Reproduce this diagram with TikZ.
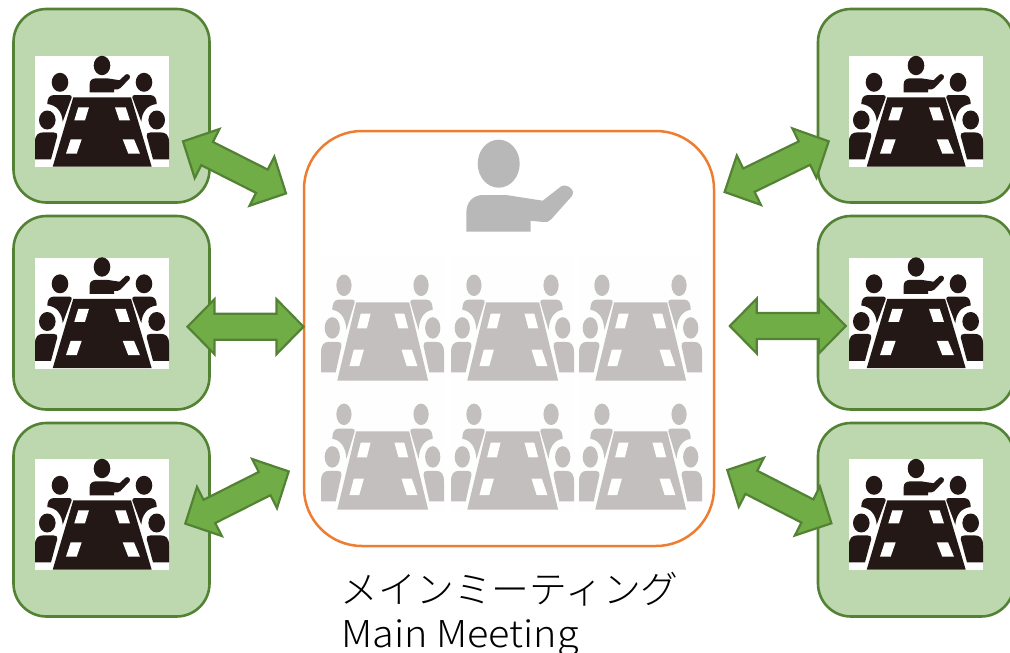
\documentclass[tikz,border=0pt]{standalone}
\usepackage{fontspec}
\usetikzlibrary{calc}
\newfontfamily\cjklabel{Noto Sans CJK JP Light}
\definecolor{boxfill}{HTML}{BDD7AE}
\definecolor{boxline}{HTML}{548235}
\definecolor{arrowfill}{HTML}{70AD47}
\definecolor{orangeline}{HTML}{ED7D31}
\definecolor{inkdark}{HTML}{231815}
\definecolor{inkgrey}{HTML}{C2BFBE}
\definecolor{presenter}{HTML}{B8B8B8}
\tikzset{
  roombox/.style={draw=boxline,fill=boxfill,line width=2.6pt,rounded corners=33pt,minimum width=196pt,minimum height=193.5pt,inner sep=0pt,outer sep=0pt,anchor=north west},
  mainbox/.style={draw=orangeline,fill=white,line width=2.5pt,rounded corners=58pt,minimum width=410pt,minimum height=415pt,inner sep=0pt,outer sep=0pt,anchor=north west},
  blockarrow/.style={draw=boxline,fill=arrowfill,line width=2.2pt,line join=miter},
  caption/.style={inner sep=0pt,anchor=base west,font=\cjklabel},
}
% one side of the table: two seated people
\newcommand{\sidepeople}[1]{%
  \fill[#1] (25,26.3) ellipse [x radius=8.3,y radius=9.5];
  \fill[#1] (12.3,64) ellipse [x radius=8.3,y radius=9.5];
  \fill[#1] (19,39) -- (34,39) .. controls (36,39) and (37,40) .. (36.7,41.5) -- (27.7,65.7)
     .. controls (27,56) and (22,49) .. (12.3,48) .. controls (12.3,43) and (14,39) .. (19,39) -- cycle;
  \fill[#1] (0,103.3) -- (0,86) .. controls (0,79) and (3,76.3) .. (9,76.3) -- (18,76.3)
     .. controls (21,76.3) and (23,77.5) .. (22.3,80) -- (16,103.3) -- cycle;
}
\newcommand{\roomicon}[1]{%
  \sidepeople{#1}
  \begin{scope}[shift={(134,0)},xscale=-1]\sidepeople{#1}\end{scope}
  \fill[#1] (38.3,41.3) -- (96,41.3) -- (116.7,110.7) -- (17.7,110.7) -- cycle;
  \fill[white] (43.3,51.3) -- (54,51.3) -- (50,64.3) -- (39.3,64.3) -- cycle;
  \fill[white] (80,51.3) -- (90.7,51.3) -- (95,64.3) -- (84.3,64.3) -- cycle;
  \fill[white] (35.7,83.3) -- (46.7,83.3) -- (41.7,97.7) -- (31,97.7) -- cycle;
  \fill[white] (87.7,83.3) -- (99,83.3) -- (105,97.7) -- (93.3,97.7) -- cycle;
}
\newcommand{\darkicon}[2]{%
  \begin{scope}[shift={(#1,#2)}]
    \fill[white] (0,0) rectangle (134,111);
    \roomicon{inkdark}
    \fill[inkdark] (67,9.5) ellipse [x radius=8.3,y radius=9.7];
    \fill[inkdark] (54.7,36.3) -- (54.7,28) .. controls (54.7,24) and (57.5,22.3) .. (61.7,22.3) -- (72,22.3)
       -- (84.5,24.2) -- (90.5,18.7) .. controls (92.5,17) and (96.5,19.5) .. (94.5,22.5)
       -- (85.5,32) .. controls (84,33.5) and (82,33.6) .. (79,33.3) -- (79,36.3) -- cycle;
  \end{scope}}
\newcommand{\greyicon}[2]{%
  \begin{scope}[shift={(#1,#2)},xscale=0.918,yscale=1.13]
    \fill[black!0.5] (0,0) rectangle (134,114);
    \roomicon{inkgrey}
  \end{scope}}
\newcommand{\dblarrow}[2]{%
  \draw[blockarrow] (#1)
    -- ($(#1)!27pt!(#2)!27.5pt!90:(#2)$) -- ($(#1)!27pt!(#2)!13pt!90:(#2)$)
    -- ($(#2)!27pt!(#1)!13pt!-90:(#1)$) -- ($(#2)!27pt!(#1)!27.5pt!-90:(#1)$)
    -- (#2)
    -- ($(#2)!27pt!(#1)!27.5pt!90:(#1)$) -- ($(#2)!27pt!(#1)!13pt!90:(#1)$)
    -- ($(#1)!27pt!(#2)!13pt!-90:(#2)$) -- ($(#1)!27pt!(#2)!27.5pt!-90:(#2)$)
    -- cycle;}
\begin{document}
\begin{tikzpicture}[x=1pt,y=-1pt]
  \useasboundingbox (0,0) rectangle (1010,653);
  \clip (0,0) rectangle (1010,653);
  \fill[white] (0,0) rectangle (1010,653);
  % rooms
  \node[roombox] (l1) at (13.5,9) {};
  \node[roombox] (l2) at (13.5,216) {};
  \node[roombox] (l3) at (13.5,423) {};
  \node[roombox] (r1) at (818,9) {};
  \node[roombox] (r2) at (818,216) {};
  \node[roombox] (r3) at (818,423) {};
  \darkicon{35}{56}\darkicon{35}{257.5}\darkicon{35}{459}
  \darkicon{849}{56}\darkicon{849}{257.5}\darkicon{849}{459}
  % main meeting
  \node[mainbox] (main) at (304,131) {};
  \fill[presenter] (498.7,163.7) ellipse [x radius=21,y radius=24];
  \fill[presenter] (466.3,231.7) -- (466.3,213) .. controls (466.3,202) and (473,195) .. (483.3,195) -- (506,195)
     -- (542.7,200.7) -- (561,186.5) .. controls (566,183) and (577,190) .. (571.5,196.5)
     -- (551,219.5) .. controls (549,222) and (546,222.5) .. (543,222) -- (530.7,220.7) -- (530.7,231.7) -- cycle;
  \greyicon{321}{255.6}\greyicon{451}{255.6}\greyicon{579}{255.6}
  \greyicon{321}{384.6}\greyicon{451}{384.6}\greyicon{579}{384.6}
  % arrows
  \coordinate (a1) at (183,141.4); \coordinate (b1) at (286,193.4);
  \coordinate (a2) at (187.5,326.7);   \coordinate (b2) at (303.5,326.7);
  \coordinate (a3) at (185.3,523.6);   \coordinate (b3) at (288.7,471.4);
  \coordinate (a4) at (828.7,141.3);   \coordinate (b4) at (724.6,192);
  \coordinate (a5) at (845.8,326);   \coordinate (b5) at (729.8,326);
  \coordinate (a6) at (831.4,523.3);   \coordinate (b6) at (727.3,470);
  \dblarrow{a1}{b1}\dblarrow{a2}{b2}\dblarrow{a3}{b3}
  \dblarrow{a4}{b4}\dblarrow{a5}{b5}\dblarrow{a6}{b6}
  % caption
  \node[caption,font=\cjklabel\fontsize{37.8}{38}\selectfont] (jp) at (340.5,603) {メインミーティング};
  \node[caption,font=\cjklabel\fontsize{37}{37}\selectfont] (en) at (341,647) {\scalebox{1.07}[1]{Main Meeting}};
\end{tikzpicture}
\end{document}
